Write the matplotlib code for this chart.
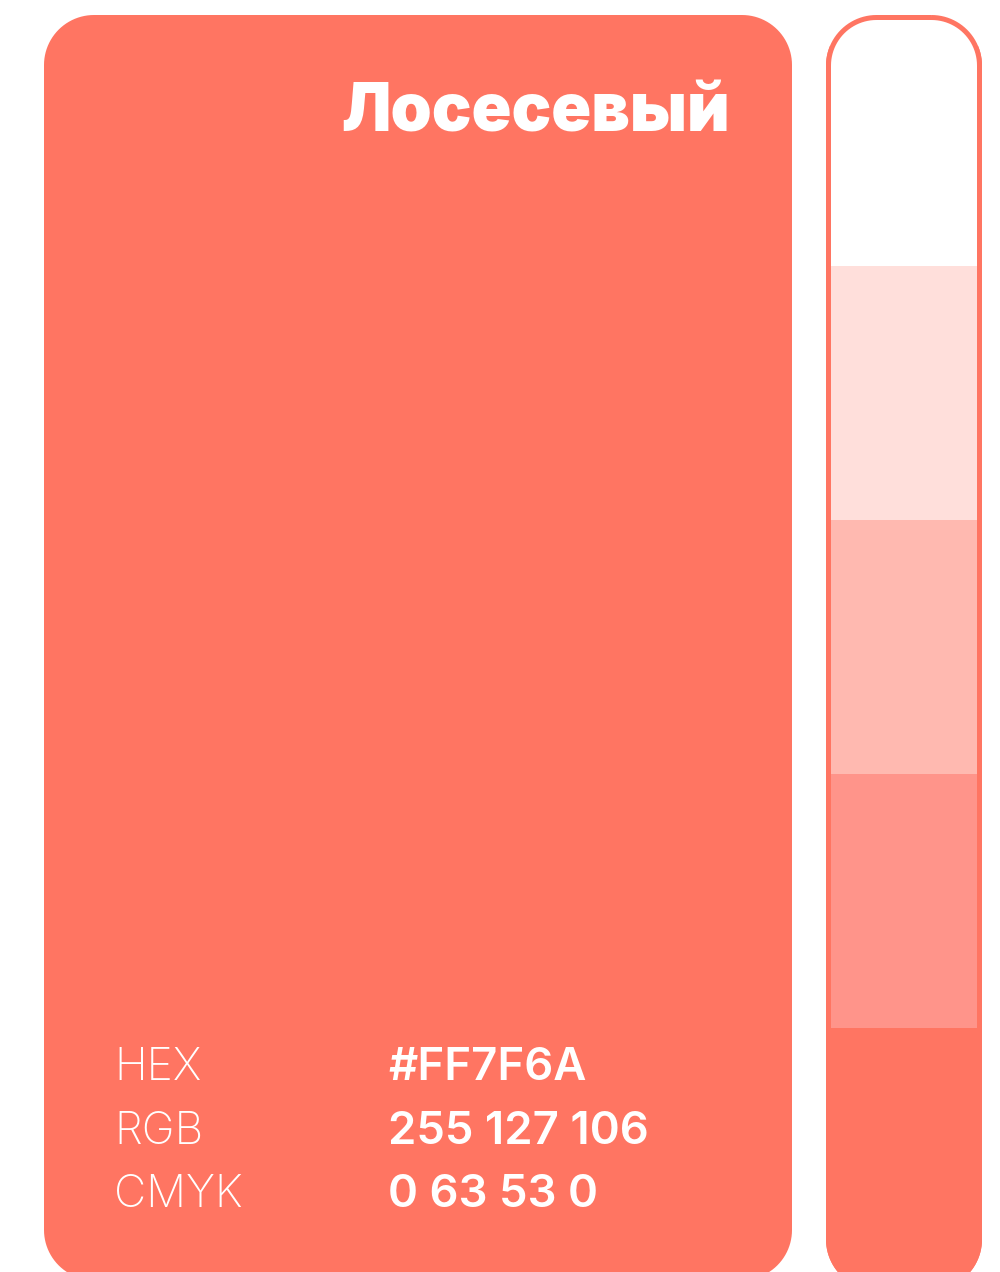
import numpy as np
import matplotlib.pyplot as plt
from matplotlib.patches import Polygon

# dados da ficha de cor
nome_cor = "Лосесевый"
rotulos = ["HEX", "RGB", "CMYK"]
valores = ["#FF7F6A", "255 127 106", "0 63 53 0"]
cor_base = "#FF7562"
tons = ["#FFFFFF", "#FFDFDB", "#FFB9B0", "#FF948A"]


def retangulo_arredondado(x0, y0, w, h, r):
    cantos = [(x0 + w - r, y0 + r, -90), (x0 + w - r, y0 + h - r, 0),
              (x0 + r, y0 + h - r, 90), (x0 + r, y0 + r, 180)]
    pts = []
    for cx, cy, a0 in cantos:
        t = np.radians(np.linspace(a0, a0 + 90, 25))
        pts += list(zip(cx + r * np.cos(t), cy + r * np.sin(t)))
    return np.array(pts)


fig = plt.figure(figsize=(10, 12.72), dpi=100)
ax = fig.add_axes([0, 0, 1, 1])
ax.set_xlim(0, 1000)
ax.set_ylim(1272, 0)
ax.axis("off")

# cartao principal
cartao = Polygon(retangulo_arredondado(44, 15, 748, 1265, 50), closed=True,
                 facecolor=cor_base, edgecolor="none")
ax.add_patch(cartao)

ax.text(730, 131, nome_cor, color="white", fontsize=47.5, fontweight="black",
        family="Inter", ha="right", va="baseline")

for i, (r, v) in enumerate(zip(rotulos, valores)):
    y = 1080 + i * 63.5
    ax.text(114, y, r, color="white", fontsize=32, fontweight="light",
            family="Inter", va="baseline")
    ax.text(388, y, v, color="white", fontsize=32.8, fontweight="semibold",
            family="Inter", va="baseline")

# faixa lateral com os tons
contorno = retangulo_arredondado(828.5, 17.5, 151, 1270, 48)
faixa = Polygon(contorno, closed=True, facecolor="white", edgecolor=cor_base, linewidth=3.6)
ax.add_patch(faixa)

altura = 254
inicio = 12
bases = [inicio + i * altura for i in range(len(tons))]
ax.bar([904] * len(tons), [altura] * len(tons), width=148, bottom=bases,
       color=tons, edgecolor="none")
fundo = ax.bar([904], [300], width=156, bottom=[inicio + len(tons) * altura],
               color=cor_base, edgecolor="none")
for b in fundo:
    b.set_clip_path(faixa)
ax.add_patch(Polygon(contorno, closed=True, facecolor="none", edgecolor=cor_base,
                     linewidth=3.6, zorder=3))

fig.savefig("out.png", dpi=100)
